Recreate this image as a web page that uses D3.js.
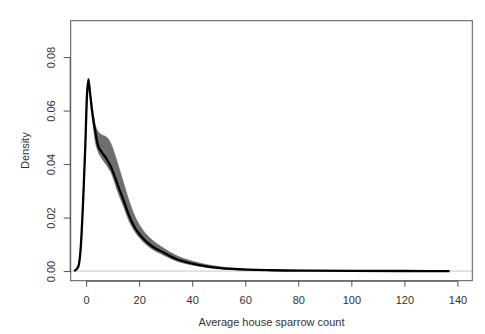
<!DOCTYPE html>
<html><head><meta charset="utf-8">
<script src="https://cdn.jsdelivr.net/npm/d3@7"></script>
<style>body{margin:0;background:#fff}svg{display:block}text{font-family:"Liberation Sans",Arial,sans-serif}</style>
</head><body><svg id="c" width="485" height="334"></svg>
<script>
const xVals   = [-4.5,-3,-2,-1,-0.25,0.25,0.9,1.5,2.5,3.4,4.5,5.9,7.8,9.7,11,12.2,14.1,16,18.5,21.5,25,29,34,40,46,55,70,85,100,120,137];
const density = [0,0.0015,0.009,0.029,0.048,0.064,0.0715,0.0665,0.058,0.0525,0.047,0.0445,0.0418,0.0382,0.0348,0.0315,0.0265,0.0212,0.0160,0.0122,0.0092,0.0070,0.0045,0.0028,0.0017,0.0008,0.0003,0.00015,0.00006,0.00002,0];
const bandLow = [0,0.0012,0.0085,0.0285,0.0475,0.0630,0.0700,0.0655,0.0565,0.0490,0.0448,0.0422,0.0395,0.0362,0.0325,0.0290,0.0243,0.0192,0.0146,0.0110,0.0082,0.0061,0.0038,0.0023,0.0013,0.0006,0.0002,0.0001,0.00003,0,0];
const bandHigh= [0,0.0018,0.0095,0.0295,0.0485,0.0645,0.0722,0.0675,0.0600,0.0548,0.0522,0.0509,0.0500,0.0468,0.0430,0.0392,0.0330,0.0268,0.0202,0.0152,0.0115,0.0087,0.0058,0.0037,0.0023,0.0011,0.0004,0.0002,0.0001,0.00003,0];
const xTicks = [0,20,40,60,80,100,120,140];
const yTicks = [0,0.02,0.04,0.06,0.08];
const yTickLabels = ["0.00","0.02","0.04","0.06","0.08"];
const xLabel = "Average house sparrow count";
const yLabel = "Density";

const svg = d3.select("#c");
const L=70.7, R=472.3, T=20.7, B=280.7;
const x = d3.scaleLinear().domain([-5.8,145.6]).range([L,R]);
const y = d3.scaleLinear().domain([-0.0036,0.0936]).range([B,T]);

svg.append("line").attr("x1",L).attr("x2",R).attr("y1",y(0)).attr("y2",y(0)).attr("stroke","#c8c8c8").attr("stroke-width",1);

const idx = d3.range(xVals.length);
svg.append("path").datum(idx)
  .attr("d", d3.area().x(i=>x(xVals[i])).y0(i=>y(bandLow[i])).y1(i=>y(bandHigh[i])).curve(d3.curveMonotoneX))
  .attr("fill","#6e6e6e").attr("stroke","#6e6e6e").attr("stroke-width",0.8);
svg.append("path").datum(idx)
  .attr("d", d3.line().x(i=>x(xVals[i])).y(i=>y(density[i])).curve(d3.curveMonotoneX))
  .attr("fill","none").attr("stroke","#000").attr("stroke-width",2.3).attr("stroke-linejoin","round");

svg.append("rect").attr("x",L).attr("y",T).attr("width",R-L).attr("height",B-T).attr("fill","none").attr("stroke","#555").attr("stroke-width",1);

const xa = svg.append("g").attr("transform",`translate(0,${B})`)
  .call(d3.axisBottom(x).tickValues(xTicks).tickSize(6).tickPadding(10).tickSizeOuter(0));
xa.select(".domain").attr("stroke","#555").attr("d",`M${x(0)},0.5H${x(140)}`);
xa.selectAll(".tick line").attr("stroke","#555");
xa.selectAll("text").attr("font-size",11).attr("fill","#333").attr("font-family","Liberation Sans, Arial, sans-serif");

const ya = svg.append("g").attr("transform",`translate(${L},0)`)
  .call(d3.axisLeft(y).tickValues(yTicks).tickFormat((d,i)=>yTickLabels[i]).tickSize(7).tickSizeOuter(0));
ya.select(".domain").attr("stroke","#555").attr("d",`M-0.5,${y(0)}V${y(0.08)}`);
ya.selectAll(".tick line").attr("stroke","#555");
ya.selectAll("text").attr("font-size",11).attr("fill","#333").attr("font-family","Liberation Sans, Arial, sans-serif")
  .attr("text-anchor","middle").attr("dy",null).attr("x",0).attr("y",0)
  .attr("transform","translate(-20,0) rotate(-90)").attr("dominant-baseline","central");

svg.append("text").attr("x",(L+R)/2).attr("y",326).attr("text-anchor","middle").attr("font-size",11).attr("fill","#333").text(xLabel);
svg.append("text").attr("transform",`translate(25,${(T+B)/2}) rotate(-90)`).attr("text-anchor","middle").attr("dominant-baseline","central").attr("font-size",11).attr("fill","#333").text(yLabel);
</script></body></html>
